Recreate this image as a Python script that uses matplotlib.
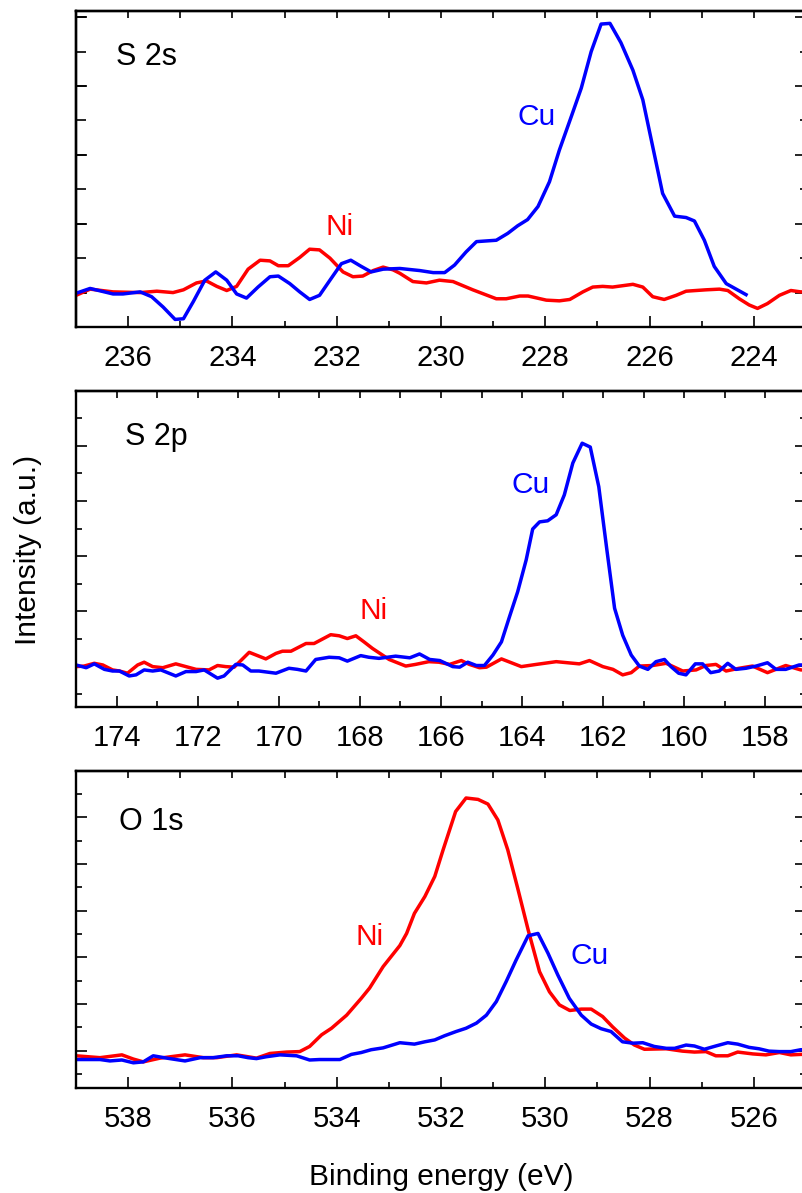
import matplotlib
matplotlib.use('Agg')
import matplotlib.pyplot as plt
from matplotlib.ticker import MultipleLocator

plt.rcParams['font.family'] = ['Liberation Sans', 'DejaVu Sans']

# ---- S 2s ----
s2s_ni_x = [237.0, 236.73, 236.29, 235.77, 235.45, 235.14, 234.94, 234.69, 234.50, 234.30,
            234.11, 233.92, 233.70, 233.47, 233.28, 233.12, 232.93, 232.71, 232.52, 232.33,
            232.13, 231.88, 231.69, 231.50, 231.30, 231.11, 230.92, 230.79, 230.54, 230.28,
            230.03, 229.77, 229.39, 228.94, 228.75, 228.49, 228.33, 227.98, 227.73, 227.53,
            227.28, 227.09, 226.90, 226.71, 226.32, 226.13, 225.94, 225.72, 225.49, 225.30,
            224.92, 224.66, 224.50, 224.28, 224.09, 223.93, 223.74, 223.51, 223.29, 223.10, 223.0]
s2s_ni_y = [-0.04, 0.05, 0.01, 0.00, 0.02, 0.00, 0.04, 0.14, 0.17, 0.09,
            0.03, 0.09, 0.34, 0.47, 0.46, 0.39, 0.39, 0.51, 0.63, 0.62,
            0.50, 0.30, 0.23, 0.24, 0.32, 0.37, 0.33, 0.28, 0.16, 0.14,
            0.18, 0.16, 0.04, -0.09, -0.09, -0.05, -0.05, -0.11, -0.12, -0.10,
            0.01, 0.08, 0.09, 0.08, 0.12, 0.08, -0.06, -0.10, -0.04, 0.02,
            0.04, 0.05, 0.03, -0.09, -0.18, -0.23, -0.16, -0.04, 0.03, 0.01, 0.01]
s2s_cu_x = [237.0, 236.73, 236.29, 236.10, 235.77, 235.55, 235.33, 235.10, 234.94, 234.75,
            234.53, 234.32, 234.11, 233.92, 233.73, 233.51, 233.28, 233.12, 232.90, 232.71,
            232.52, 232.33, 232.13, 231.91, 231.73, 231.53, 231.34, 231.11, 230.79, 230.41,
            230.15, 229.93, 229.74, 229.52, 229.32, 229.13, 228.94, 228.72, 228.53, 228.34,
            228.14, 227.92, 227.73, 227.50, 227.31, 227.12, 226.93, 226.76, 226.55, 226.32,
            226.13, 225.94, 225.75, 225.52, 225.30, 225.14, 224.95, 224.76, 224.53, 224.15]
s2s_cu_y = [-0.01, 0.06, -0.02, -0.02, 0.01, -0.06, -0.21, -0.39, -0.38, -0.13,
            0.18, 0.30, 0.18, -0.02, -0.08, 0.08, 0.23, 0.24, 0.13, 0.01,
            -0.10, -0.04, 0.18, 0.42, 0.47, 0.38, 0.30, 0.34, 0.35, 0.32,
            0.29, 0.29, 0.40, 0.59, 0.74, 0.75, 0.76, 0.86, 0.97, 1.06,
            1.25, 1.61, 2.07, 2.56, 2.97, 3.50, 3.90, 3.91, 3.63, 3.23,
            2.80, 2.12, 1.44, 1.11, 1.09, 1.04, 0.76, 0.38, 0.13, -0.03]

# ---- S 2p ----
s2p_ni_x = [175.0, 174.80, 174.55, 174.34, 174.10, 173.93, 173.73, 173.48, 173.32, 173.11,
            172.86, 172.54, 172.29, 172.04, 171.72, 171.51, 171.31, 171.10, 170.73, 170.32,
            170.07, 169.91, 169.70, 169.33, 169.13, 168.72, 168.51, 168.31, 168.10, 167.90,
            167.69, 167.28, 166.87, 166.63, 166.30, 166.05, 165.79, 165.50, 165.30, 165.05,
            164.88, 164.51, 164.02, 163.65, 163.16, 162.59, 162.34, 162.01, 161.76, 161.52,
            161.31, 161.11, 160.78, 160.45, 160.04, 159.71, 159.47, 159.22, 158.97, 158.65,
            158.32, 157.95, 157.50, 157.13, 157.0]
s2p_ni_y = [-0.01, 0.00, 0.05, 0.02, -0.07, -0.09, -0.13, 0.02, 0.07, -0.01,
            -0.03, 0.04, -0.01, -0.06, -0.07, 0.01, -0.01, -0.02, 0.25, 0.13,
            0.23, 0.27, 0.27, 0.41, 0.41, 0.57, 0.55, 0.50, 0.55, 0.44,
            0.32, 0.12, 0.00, 0.03, 0.08, 0.07, 0.03, 0.10, 0.03, -0.03,
            -0.02, 0.13, -0.01, 0.03, 0.08, 0.04, 0.10, -0.01, -0.06, -0.16,
            -0.12, 0.00, 0.01, 0.05, -0.09, -0.07, 0.01, 0.03, -0.09, -0.04,
            0.00, -0.12, 0.01, -0.07, -0.07]
s2p_cu_x = [175.0, 174.75, 174.55, 174.30, 174.10, 173.93, 173.69, 173.52, 173.32, 173.11,
            172.91, 172.54, 172.29, 172.04, 171.84, 171.51, 171.35, 171.06, 170.89, 170.69,
            170.49, 170.07, 169.75, 169.54, 169.33, 169.09, 168.76, 168.51, 168.31, 167.98,
            167.78, 167.53, 167.12, 166.77, 166.53, 166.28, 166.03, 165.71, 165.54, 165.34,
            165.13, 164.93, 164.72, 164.51, 164.31, 164.11, 163.90, 163.74, 163.57, 163.37,
            163.16, 162.96, 162.75, 162.52, 162.32, 162.11, 161.91, 161.72, 161.52, 161.31,
            161.11, 160.90, 160.70, 160.49, 160.33, 160.14, 159.96, 159.73, 159.55, 159.35,
            159.14, 158.93, 158.73, 158.48, 158.23, 157.95, 157.74, 157.50, 157.17, 157.0]
s2p_cu_y = [0.02, -0.03, 0.04, -0.06, -0.09, -0.09, -0.18, -0.16, -0.07, -0.09,
            -0.07, -0.18, -0.10, -0.10, -0.07, -0.22, -0.18, 0.03, 0.02, -0.09,
            -0.09, -0.13, -0.04, -0.06, -0.09, 0.12, 0.16, 0.15, 0.09, 0.19,
            0.16, 0.14, 0.18, 0.15, 0.22, 0.12, 0.10, -0.01, -0.02, 0.07,
            0.01, 0.01, 0.20, 0.44, 0.90, 1.35, 1.93, 2.49, 2.62, 2.64,
            2.75, 3.11, 3.69, 4.05, 3.98, 3.26, 2.11, 1.05, 0.56, 0.20,
            0.00, -0.06, 0.08, 0.12, -0.01, -0.13, -0.16, 0.04, 0.04, -0.12,
            -0.09, 0.05, -0.06, -0.04, 0.00, 0.06, -0.06, -0.06, 0.02, 0.02]

# ---- O 1s ----
o1s_ni_x = [539.0, 538.54, 538.12, 537.90, 537.71, 537.39, 536.91, 536.56, 536.30, 535.92,
            535.54, 535.28, 534.96, 534.71, 534.52, 534.29, 534.10, 533.81, 533.53, 533.37,
            533.11, 532.79, 532.66, 532.51, 532.31, 532.12, 531.96, 531.72, 531.52, 531.29,
            531.10, 530.91, 530.72, 530.53, 530.33, 530.11, 529.92, 529.73, 529.53, 529.31,
            529.12, 528.90, 528.71, 528.48, 528.29, 528.10, 527.68, 527.37, 527.14, 526.92,
            526.73, 526.50, 526.31, 526.02, 525.77, 525.51, 525.29, 525.10, 525.0]
o1s_ni_y = [-0.11, -0.15, -0.09, -0.18, -0.24, -0.16, -0.09, -0.15, -0.15, -0.09,
            -0.16, -0.06, -0.03, -0.02, 0.09, 0.34, 0.48, 0.76, 1.12, 1.34,
            1.80, 2.25, 2.51, 2.94, 3.30, 3.73, 4.30, 5.12, 5.41, 5.38,
            5.28, 4.94, 4.30, 3.48, 2.59, 1.69, 1.26, 0.98, 0.86, 0.89,
            0.89, 0.73, 0.51, 0.27, 0.12, 0.03, 0.04, -0.01, -0.03, -0.02,
            -0.11, -0.11, -0.03, -0.07, -0.09, -0.04, -0.09, -0.08, -0.08]
o1s_cu_x = [539.0, 538.54, 538.35, 538.12, 537.90, 537.71, 537.52, 537.26, 536.91, 536.62,
            536.37, 536.11, 535.89, 535.70, 535.54, 535.35, 535.09, 534.77, 534.52, 534.33,
            533.94, 533.72, 533.53, 533.34, 533.11, 532.79, 532.51, 532.31, 532.12, 531.93,
            531.71, 531.52, 531.32, 531.13, 530.94, 530.75, 530.56, 530.33, 530.14, 529.95,
            529.76, 529.54, 529.31, 529.12, 528.93, 528.74, 528.52, 528.32, 528.13, 527.91,
            527.68, 527.52, 527.30, 527.14, 526.95, 526.73, 526.50, 526.31, 526.09, 525.90,
            525.71, 525.51, 525.29, 525.10, 525.0]
o1s_cu_y = [-0.19, -0.19, -0.22, -0.20, -0.26, -0.24, -0.11, -0.16, -0.22, -0.15,
            -0.15, -0.11, -0.11, -0.15, -0.17, -0.13, -0.09, -0.11, -0.20, -0.19,
            -0.19, -0.08, -0.04, 0.02, 0.06, 0.17, 0.14, 0.19, 0.23, 0.32,
            0.41, 0.48, 0.59, 0.76, 1.05, 1.48, 1.94, 2.46, 2.51, 2.09,
            1.62, 1.12, 0.76, 0.57, 0.47, 0.41, 0.19, 0.16, 0.17, 0.09,
            0.05, 0.05, 0.12, 0.10, 0.03, 0.10, 0.17, 0.14, 0.07, 0.04,
            -0.01, -0.02, -0.02, 0.02, 0.02]

panel_names = ['S 2s', 'S 2p', 'O 1s']
xlims = [(237, 223), (175, 157), (539, 525)]
ylims = [(-0.5, 4.09), (-0.75, 5.0), (-0.805, 5.99)]
name_pos = [(236.23, 3.31), (173.79, 4.02), (538.17, 4.73)]
ni_pos = [(231.95, 0.84), (167.67, 0.86), (533.38, 2.26)]
cu_pos = [(228.17, 2.44), (163.79, 3.14), (529.15, 1.86)]

series = [(s2s_ni_x, s2s_ni_y, s2s_cu_x, s2s_cu_y),
          (s2p_ni_x, s2p_ni_y, s2p_cu_x, s2p_cu_y),
          (o1s_ni_x, o1s_ni_y, o1s_cu_x, o1s_cu_y)]

# axes boxes in figure fractions: left, bottom, width, height
boxes = [(0.0948, 0.7259, 0.9102, 0.2649),
         (0.0948, 0.4071, 0.9102, 0.2652),
         (0.0948, 0.0878, 0.9102, 0.2660)]

fig = plt.figure(figsize=(8.02, 11.93), dpi=100)

for i in range(3):
    ax = fig.add_axes(boxes[i])
    ni_x, ni_y, cu_x, cu_y = series[i]
    ax.plot(ni_x, ni_y, color='#ff0000', lw=2.5)
    ax.plot(cu_x, cu_y, color='#0000ff', lw=2.5)
    ax.set_xlim(*xlims[i])
    ax.set_ylim(*ylims[i])

    ax.xaxis.set_major_locator(MultipleLocator(2))
    ax.xaxis.set_minor_locator(MultipleLocator(1))
    ax.yaxis.set_major_locator(MultipleLocator(1))
    ax.yaxis.set_minor_locator(MultipleLocator(0.5))
    ax.tick_params(which='both', direction='in', top=False, left=True, right=True,
                   labelleft=False, width=1.2)
    ax.tick_params(which='major', length=7.7, labelsize=21, pad=12)
    ax.tick_params(which='minor', length=4.2)
    if i == 0:
        # top panel: every left tick has the same length
        ax.tick_params(which='minor', left=False)
        sec = ax.secondary_yaxis('left')
        sec.yaxis.set_major_locator(MultipleLocator(0.5))
        sec.tick_params(direction='in', length=7.5, width=1.2, labelleft=False)
        sec.spines['left'].set_linewidth(1.7)

    top = ax.secondary_xaxis('top')
    top.xaxis.set_major_locator(MultipleLocator(1))
    top.tick_params(direction='in', length=5, width=1.2, labeltop=False)
    top.spines['top'].set_linewidth(1.7)

    for sp in ax.spines.values():
        sp.set_linewidth(1.7)

    ax.text(*name_pos[i], panel_names[i], fontsize=22, ha='left', va='baseline')
    ax.text(*ni_pos[i], 'Ni', fontsize=21.5, color='#ff0000', ha='center', va='baseline')
    ax.text(*cu_pos[i], 'Cu', fontsize=21.5, color='#0000ff', ha='center', va='baseline')

fig.text(0.0343, 0.539, 'Intensity (a.u.)', rotation=90, fontsize=21.5,
         ha='center', va='center')
fig.text(0.55, 0.0134, 'Binding energy (eV)', fontsize=21.5, ha='center', va='center')

fig.savefig('out.png', dpi=100)
